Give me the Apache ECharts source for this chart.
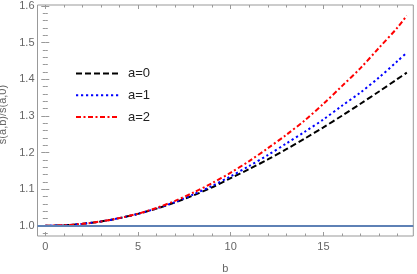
<!DOCTYPE html>
<html>
<head>
<meta charset="utf-8">
<script src="https://cdn.jsdelivr.net/npm/echarts@6/dist/echarts.min.js"></script>
<style>
html,body{margin:0;padding:0;background:#fff;}
#chart{width:417px;height:274px;}
</style>
</head>
<body>
<div id="chart"></div>
<script>
const bValues  = [0, 1, 2, 3, 4, 5, 6, 7, 8, 9, 10, 11, 12, 13, 14, 15, 16, 17, 18, 19, 19.5];
const a0Values = [1.0, 1.0013, 1.0052, 1.0117, 1.0208, 1.0325, 1.0468, 1.0637, 1.0832, 1.1049, 1.130, 1.1548, 1.1811, 1.2090, 1.2383, 1.2688, 1.3005, 1.3332, 1.3667, 1.4010, 1.4183];
const a1Values = [1.0, 1.0013, 1.0052, 1.0117, 1.0208, 1.0325, 1.0472, 1.0647, 1.0858, 1.1090, 1.1350, 1.1633, 1.1930, 1.2247, 1.2568, 1.2903, 1.3277, 1.3640, 1.4050, 1.4500, 1.4727];
const a2Values = [1.0, 1.0013, 1.0052, 1.0117, 1.0209, 1.0330, 1.0486, 1.0681, 1.0909, 1.1166, 1.1450, 1.1767, 1.2117, 1.2484, 1.2881, 1.3330, 1.3814, 1.4306, 1.4860, 1.5415, 1.5742];
const refValue = 1.0;
const seriesNames = ['a=0', 'a=1', 'a=2'];
const xMajorTicks = [0, 5, 10, 15];
const xMinorTicks = [1, 2, 3, 4, 6, 7, 8, 9, 11, 12, 13, 14, 16, 17, 18, 19];
const yMajorTicks = [1.0, 1.1, 1.2, 1.3, 1.4, 1.5, 1.6];
const yMinorTicks = [0.98, 1.02, 1.04, 1.06, 1.08, 1.12, 1.14, 1.16, 1.18, 1.22, 1.24, 1.26, 1.28,
                     1.32, 1.34, 1.36, 1.38, 1.42, 1.44, 1.46, 1.48, 1.52, 1.54, 1.56, 1.58];
const xTitle = 'b';
const yTitle = 's(a,b)/s(a,0)';

const X_MIN = -0.42, X_MAX = 19.85, Y_MIN = 0.972, Y_MAX = 1.603;
const FRAME = '#999999';
const LABEL = '#666666';
const FONT = 'Liberation Sans, Arial, sans-serif';

function pairs(xs, ys) { return xs.map((x, i) => [x, ys[i]]); }

function axis(kind, position, ticks, len, withLabels) {
  const a = {
    type: 'value',
    position: position,
    min: kind === 'x' ? X_MIN : Y_MIN,
    max: kind === 'x' ? X_MAX : Y_MAX,
    splitLine: { show: false },
    axisLine: { show: false },
    axisTick: { show: true, inside: true, length: len, customValues: ticks,
                lineStyle: { color: FRAME, width: 1 } },
    axisLabel: { show: false }
  };
  if (withLabels) {
    a.axisLabel = {
      show: true, customValues: ticks, color: LABEL, fontSize: 11, fontFamily: FONT,
      margin: kind === 'x' ? 5 : 3,
      formatter: kind === 'x' ? (v => String(v)) : (v => v.toFixed(1))
    };
  }
  return a;
}

const xAxes = [
  Object.assign(axis('x', 'bottom', xMajorTicks, 4, true), {
    name: xTitle, nameLocation: 'middle', nameGap: 27,
    nameTextStyle: { color: LABEL, fontSize: 11, fontFamily: FONT }
  }),
  axis('x', 'bottom', xMinorTicks, 2.5, false),
  axis('x', 'top', xMajorTicks, 4, false),
  axis('x', 'top', xMinorTicks, 2.5, false)
];
const yAxes = [
  Object.assign(axis('y', 'left', yMajorTicks, 4, true), {
    name: yTitle, nameLocation: 'middle', nameGap: 29,
    nameTextStyle: { color: LABEL, fontSize: 11, fontFamily: FONT, padding: [0, 0, 0, 12] }
  }),
  axis('y', 'left', yMinorTicks, 2.5, false),
  axis('y', 'right', yMajorTicks, 4, false),
  axis('y', 'right', yMinorTicks, 2.5, false)
];

const styles = [
  { color: '#000000', type: [6, 3] },
  { color: '#0000ff', type: [2.2, 2.8] },
  { color: '#ff0000', type: [5, 2.5, 2, 2.5] }
];
const valueSets = [a0Values, a1Values, a2Values];

const series = seriesNames.map((name, i) => ({
  name: name,
  type: 'line',
  xAxisIndex: 0, yAxisIndex: 0,
  data: pairs(bValues, valueSets[i]),
  symbol: 'none',
  showSymbol: false,
  smooth: 0.3,
  lineStyle: { color: styles[i].color, width: 2, type: styles[i].type },
  itemStyle: { color: styles[i].color },
  z: 2
}));
series.push({
  name: 'ref',
  type: 'line',
  xAxisIndex: 0, yAxisIndex: 0,
  data: [],
  z: 3,
  markLine: {
    silent: true, symbol: 'none', animation: false,
    label: { show: false },
    lineStyle: { color: '#5e81b5', width: 2, type: 'solid' },
    data: [{ yAxis: refValue }]
  }
});

const chart = echarts.init(document.getElementById('chart'), null, { renderer: 'canvas' });
chart.setOption({
  animation: false,
  backgroundColor: '#ffffff',
  grid: { left: 37.5, right: 3.7, top: 5, bottom: 38, show: true,
          outerBoundsMode: 'none', containLabel: false,
          borderColor: FRAME, borderWidth: 1, backgroundColor: 'transparent' },
  xAxis: xAxes,
  yAxis: yAxes,
  legend: {
    data: seriesNames,
    orient: 'vertical',
    left: 75, top: 67,
    itemWidth: 43, itemHeight: 14, itemGap: 8.8,
    itemStyle: { opacity: 0 },
    textStyle: { color: '#222', fontSize: 13, fontFamily: FONT, padding: [0, 0, 0, 4] },
    padding: 0,
    selectedMode: false
  },
  series: series
});
</script>
</body>
</html>
